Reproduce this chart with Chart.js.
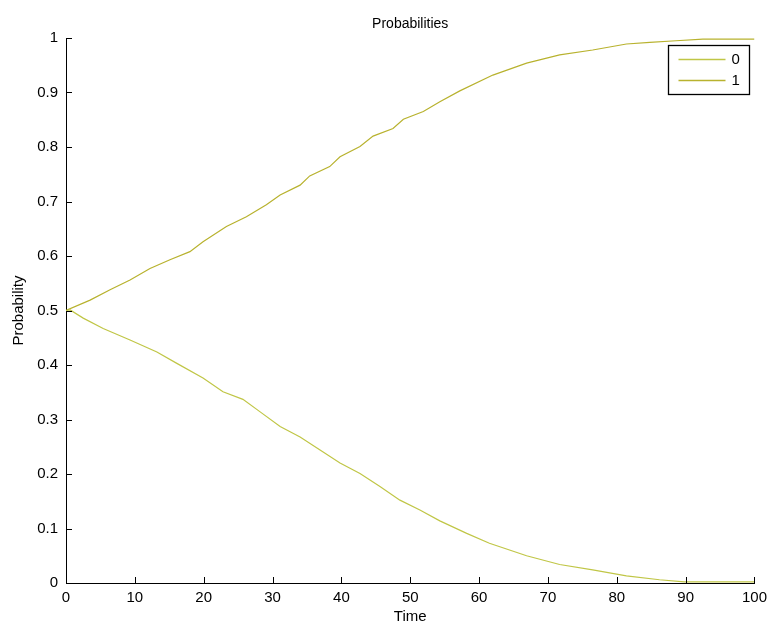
<!DOCTYPE html>
<html>
<head>
<meta charset="utf-8">
<script src="https://cdn.jsdelivr.net/npm/chart.js@4/dist/chart.umd.min.js"></script>
<style>
  body { margin: 0; background: #fff; }
  #wrap { width: 773px; height: 626px; }
</style>
</head>
<body>
<div id="wrap"><canvas id="probChart"></canvas></div>
<script>
// values
const timeOne = [0, 3.5, 6.4, 9.3, 12.2, 15.1, 18, 19.9, 23.3, 26.2, 29.1, 31.1, 34, 35.4, 38.3, 39.8, 42.7, 44.6, 47.5, 49, 51.9, 54.3, 57.2, 62, 66.9, 71.7, 76.5, 81.4, 84.8, 88.6, 92.5, 100]
const probOne = [0.5, 0.519, 0.538, 0.556, 0.577, 0.593, 0.608, 0.626, 0.654, 0.672, 0.694, 0.712, 0.730, 0.747, 0.764, 0.782, 0.801, 0.820, 0.834, 0.851, 0.865, 0.883, 0.903, 0.932, 0.954, 0.969, 0.978, 0.989, 0.992, 0.995, 0.998, 0.998]

const timeZero = [0, 0.6, 2.5, 5.4, 9.3, 13.2, 16.1, 19.9, 22.8, 25.7, 28.2, 31.1, 34, 36.9, 39.8, 42.7, 45.6, 48.5, 51.4, 54.3, 58.2, 61.5, 66.9, 71.7, 76.5, 81.4, 86.2, 89.8, 100]
const probZero = [0.5, 0.501, 0.486, 0.467, 0.446, 0.424, 0.403, 0.376, 0.351, 0.337, 0.314, 0.287, 0.268, 0.244, 0.220, 0.201, 0.177, 0.152, 0.134, 0.114, 0.091, 0.073, 0.050, 0.034, 0.024, 0.013, 0.006, 0.002, 0.002]

const seriesNames = ['0', '1']
const seriesColors = ['rgb(192,198,70)', 'rgb(184,178,46)']
const xTicks = [0, 10, 20, 30, 40, 50, 60, 70, 80, 90, 100]
const yTicks = [0, 0.1, 0.2, 0.3, 0.4, 0.5, 0.6, 0.7, 0.8, 0.9, 1]

const FONT = 'Helvetica, "Liberation Sans", Arial, sans-serif'

function toPoints(xs, ys) {
    return xs.map((x, i) => ({ x: x, y: ys[i] }))
}

// inward tick marks + boxed legend, matlab style
const matlabBits = {
    id: 'matlabBits',
    afterDraw(chart) {
        const ctx = chart.ctx
        const xs = chart.scales.x
        const ys = chart.scales.y
        const area = chart.chartArea
        ctx.save()
        ctx.strokeStyle = '#000'
        ctx.lineWidth = 1
        ctx.beginPath()
        xTicks.forEach(v => {
            const px = Math.round(xs.getPixelForValue(v)) + 0.5
            ctx.moveTo(px, area.bottom)
            ctx.lineTo(px, area.bottom - 6)
        })
        yTicks.forEach(v => {
            const py = Math.round(ys.getPixelForValue(v)) + 0.5
            ctx.moveTo(area.left, py)
            ctx.lineTo(area.left + 6, py)
        })
        ctx.stroke()

        // legend box
        const bx = 668.5, by = 45.5, bw = 81, bh = 49
        ctx.fillStyle = '#fff'
        ctx.fillRect(bx, by, bw, bh)
        ctx.lineWidth = 1.3
        ctx.strokeRect(bx, by, bw, bh)
        ctx.font = '15px ' + FONT
        ctx.textBaseline = 'middle'
        ctx.textAlign = 'left'
        seriesNames.forEach((name, i) => {
            const ly = by + 14 + i * 21
            ctx.strokeStyle = seriesColors[i]
            ctx.lineWidth = 1.5
            ctx.beginPath()
            ctx.moveTo(bx + 10, ly)
            ctx.lineTo(bx + 57, ly)
            ctx.stroke()
            ctx.fillStyle = '#000'
            ctx.fillText(name, bx + 63, ly)
        })
        ctx.restore()
    }
}

window.onload = function () {
    const canvas = document.getElementById('probChart')
    new Chart(canvas, {
        type: 'line',
        data: {
            datasets: [
                {
                    label: seriesNames[0],
                    data: toPoints(timeZero, probZero),
                    borderColor: seriesColors[0],
                    borderWidth: 1.2,
                    pointRadius: 0,
                    tension: 0
                },
                {
                    label: seriesNames[1],
                    data: toPoints(timeOne, probOne),
                    borderColor: seriesColors[1],
                    borderWidth: 1.2,
                    pointRadius: 0,
                    tension: 0
                }
            ]
        },
        options: {
            responsive: true,
            maintainAspectRatio: false,
            animation: false,
            layout: { padding: { left: 0, right: 18, top: 0, bottom: 0 } },
            plugins: {
                legend: { display: false },
                tooltip: { enabled: false },
                title: {
                    display: true,
                    text: 'Probabilities',
                    color: '#000',
                    fullSize: false,
                    font: { family: FONT, size: 14, weight: 'normal' },
                    padding: { top: 16, bottom: 5.2 }
                }
            },
            scales: {
                x: {
                    type: 'linear',
                    min: 0,
                    max: 100,
                    afterFit: s => { s.height = 43 },
                    afterBuildTicks: s => { s.ticks = xTicks.map(v => ({ value: v })) },
                    grid: { drawOnChartArea: false, drawTicks: false },
                    border: { color: '#000', width: 1 },
                    ticks: { color: '#000', padding: 6, maxRotation: 0, font: { family: FONT, size: 15 } },
                    title: { display: true, text: 'Time', color: '#000', padding: { top: 0, bottom: 0 }, font: { family: FONT, size: 15 } }
                },
                y: {
                    min: 0,
                    max: 1,
                    afterFit: s => { s.width = 66 },
                    afterBuildTicks: s => { s.ticks = yTicks.map(v => ({ value: v })) },
                    grid: { drawOnChartArea: false, drawTicks: false },
                    border: { color: '#000', width: 1 },
                    ticks: { color: '#000', padding: 8, font: { family: FONT, size: 15 }, callback: v => String(+v.toFixed(1)) },
                    title: { display: true, text: 'Probability', color: '#000', padding: { top: 10, bottom: 0 }, font: { family: FONT, size: 15 } }
                }
            }
        },
        plugins: [matlabBits]
    })
}
</script>
</body>
</html>
